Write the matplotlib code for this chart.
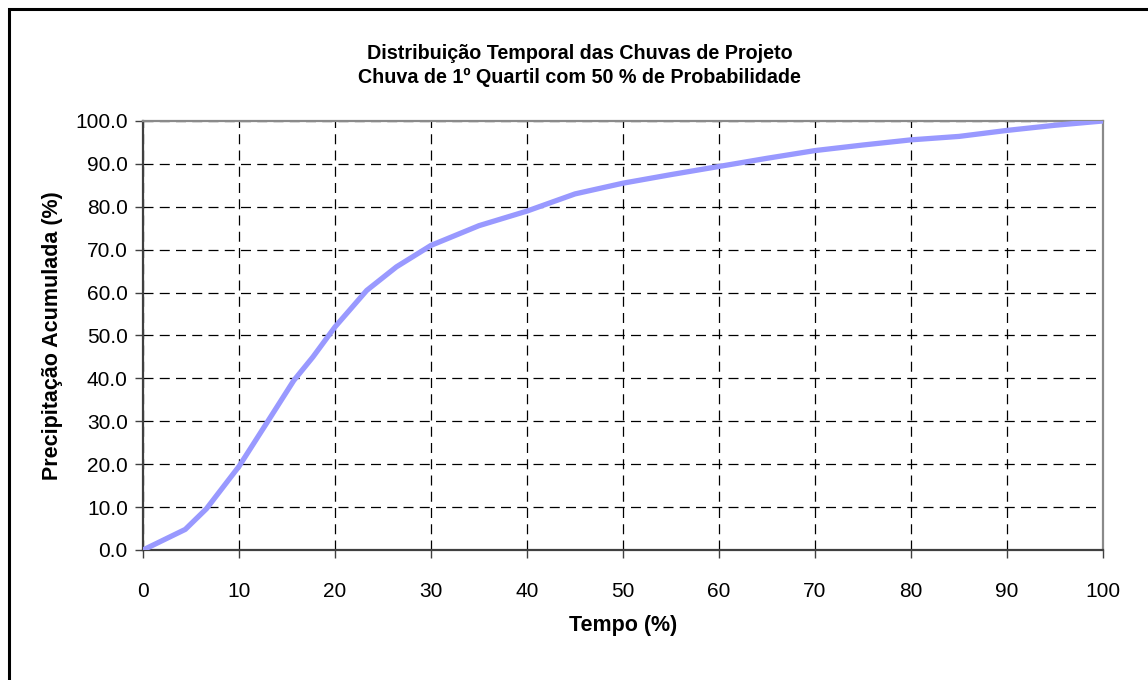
import matplotlib.pyplot as plt
from matplotlib.patches import Rectangle

# tempo acumulado (%) e precipitacao acumulada (%)
tempo = [0, 4.4, 6.6, 10, 13, 15.7, 17.7, 20, 23.3, 26.4, 30, 35, 40, 45, 50,
         55, 60, 65, 70, 75, 80, 85, 90, 95, 100]
precipitacao = [0, 4.8, 9.6, 19.5, 30, 39.5, 45, 52, 60.5, 66, 71, 75.6, 79,
                83, 85.5, 87.5, 89.4, 91.3, 93.1, 94.4, 95.6, 96.4, 97.8, 99, 100]

x_ticks = list(range(0, 101, 10))
y_ticks = list(range(0, 101, 10))

plt.rcParams['font.family'] = ['Liberation Sans', 'DejaVu Sans']

fig = plt.figure(figsize=(11.48, 6.8), dpi=100)
ax = fig.add_axes([0.1246, 0.1912, 0.8362, 0.6309])

# moldura do grafico
fig.patches.append(Rectangle((8.5 / 1148, -0.1), 1.2, 1.1 - 9 / 680,
                             transform=fig.transFigure, fill=False,
                             edgecolor='black', linewidth=2.2))

ax.plot(tempo, precipitacao, color='#9999ff', linewidth=3.8,
        solid_joinstyle='round', zorder=3)

ax.set_xlim(0, 100)
ax.set_ylim(0, 100)
ax.set_xticks(x_ticks)
ax.set_yticks(y_ticks)
ax.set_xticklabels([str(v) for v in x_ticks])
ax.set_yticklabels(['%.1f' % v for v in y_ticks])
ax.tick_params(labelsize=15, length=6, width=1, color='#404040', pad=5)
ax.tick_params(axis='x', pad=17)

ax.grid(True, color='black', linestyle=(0, (8, 5)), linewidth=0.9)
ax.set_axisbelow(True)

for side in ['left', 'bottom']:
    ax.spines[side].set_color('#404040')
    ax.spines[side].set_linewidth(1.6)
for side in ['top', 'right']:
    ax.spines[side].set_color('#8a8a8a')
    ax.spines[side].set_linewidth(1.6)

ax.set_xlabel('Tempo (%)', fontsize=15.5, fontweight='bold', labelpad=10)
ax.set_ylabel('Precipitação Acumulada (%)', fontsize=15.5, fontweight='bold',
              labelpad=9)

fig.text(0.505, 0.904, 'Distribuição Temporal das Chuvas de Projeto\n'
         'Chuva de 1º Quartil com 50 % de Probabilidade',
         ha='center', va='center', fontsize=14.2, fontweight='bold',
         linespacing=1.35)

fig.savefig('out.png', dpi=100)
